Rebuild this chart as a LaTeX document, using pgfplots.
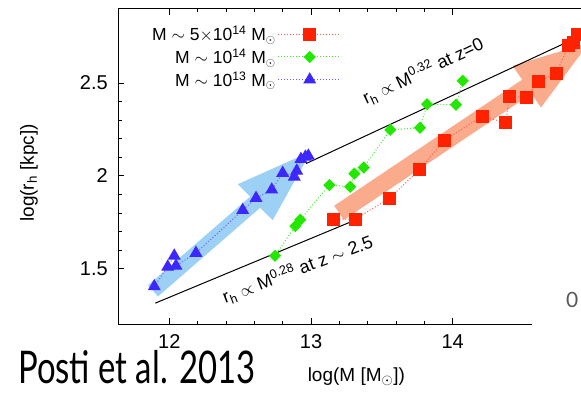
\documentclass[border=0pt]{standalone}
\usepackage{pgfplots}
\pgfplotsset{compat=1.18}
\usepackage{fontspec}
\setmainfont{Liberation Sans}
\newfontfamily\slidefont{Lato}

\definecolor{sqred}{HTML}{FF2200}
\definecolor{lnred}{HTML}{FF5A4A}
\definecolor{dmgreen}{HTML}{22E800}
\definecolor{lngreen}{HTML}{44EE33}
\definecolor{trblue}{HTML}{3C28FF}
\definecolor{lnblue}{HTML}{6A60FF}
\definecolor{arrblue}{HTML}{9DD0F5}
\definecolor{arrsalmon}{HTML}{F9AB8C}

\begin{document}
\begin{tikzpicture}
\useasboundingbox (0bp,0bp) rectangle (581bp,393bp);
\clip (0bp,0bp) rectangle (581bp,393bp);
\begin{axis}[
  at={(118.3bp,68.7bp)}, anchor=south west,
  scale only axis, width=476.1bp, height=315.5bp,
  xmin=11.64, xmax=15.0, ymin=1.2, ymax=2.9,
  xtick={12,13,14}, ytick={1.5,2,2.5},
  minor x tick num=4, minor y tick num=4,
  tick align=inside,
  major tick length=6bp, minor tick length=3.5bp,
  axis line style={line width=1bp},
  every tick/.style={black, line width=0.8bp},
  /pgf/number format/assume math mode=true,
  ticklabel style={font=\fontsize{20bp}{20bp}\selectfont},
  xticklabel style={yshift=-7bp},
  yticklabel style={xshift=-7bp},
  xlabel={log(M [M\(_\odot\)])},
  ylabel={log(r\textsubscript{h} [kpc])},
  label style={font=\fontsize{19bp}{19bp}\selectfont},
  xlabel style={at={(axis description cs:0.5,0)}, anchor=center, yshift=-52bp},
  ylabel style={at={(axis description cs:-0.1876,0.48)}, anchor=center},
  legend style={at={(0.476,0.958)}, anchor=north east, draw=none, fill=none,
    font=\fontsize{17.5bp}{17.5bp}\selectfont, row sep=2.5bp},
  legend cell align=right, legend plot pos=right,
  legend image code/.code={\draw[mark repeat=2,mark phase=2,#1]
    plot coordinates {(0bp,0bp) (31.5bp,0bp) (63bp,0bp)};},
]
% growth arrows drawn underneath everything else
\fill[arrblue] (11.920,1.350) -- (12.641,1.828) -- (12.730,1.761) -- (13.000,2.131)
  -- (12.483,1.955) -- (12.571,1.888) -- (11.850,1.411) -- cycle;
\fill[arrsalmon] (13.231,1.762) -- (14.557,2.442) -- (14.623,2.368) -- (14.962,2.717)
  -- (14.423,2.593) -- (14.490,2.518) -- (13.164,1.839) -- cycle;

% size-mass relations at z=0 and z~2.5
\addplot[black, line width=1bp, forget plot] coordinates {(12.965,2.066) (14.95,2.771)};
\addplot[black, line width=1bp, forget plot] coordinates {(11.901,1.314) (13.300,1.758)};

\addplot[color=lnred, line width=1bp, dash pattern=on 1bp off 2bp,
  mark=square*, mark size=6bp, mark options={solid, fill=sqred, draw=sqred}]
  coordinates {
  (13.157,1.767) (13.313,1.767) (13.555,1.880) (13.769,2.036) (13.941,2.192)
  (14.207,2.320) (14.374,2.287) (14.399,2.428) (14.519,2.422) (14.604,2.506)
  (14.729,2.551) (14.816,2.700) (14.853,2.717) (14.882,2.763)};
\addlegendentry{M \(\sim\) 5\(\times\)10\textsuperscript{14} M\(_\odot\)}

\addplot[color=lngreen, line width=1bp, dash pattern=on 1bp off 2bp,
  mark=square*, mark size=3.8bp, mark options={solid, rotate=45, fill=dmgreen, draw=dmgreen}]
  coordinates {
  (12.746,1.569) (12.889,1.729) (12.924,1.763) (13.129,1.950) (13.277,1.941)
  (13.306,2.012) (13.372,2.045) (13.560,2.248) (13.769,2.259) (13.819,2.386)
  (14.023,2.383) (14.071,2.512)};
\addlegendentry{M \(\sim\) 10\textsuperscript{14} M\(_\odot\)}

\addplot[color=lnblue, line width=1bp, dash pattern=on 1bp off 2bp,
  mark=triangle*, mark size=6.5bp, mark options={solid, fill=trblue, draw=trblue}]
  coordinates {
  (11.894,1.404) (11.989,1.510) (12.035,1.569) (12.047,1.515) (12.188,1.584)
  (12.518,1.815) (12.612,1.880) (12.723,1.925) (12.800,2.015) (12.882,1.995)
  (12.899,2.027) (12.929,2.090) (12.960,2.102) (12.981,2.108)};
\addlegendentry{M \(\sim\) 10\textsuperscript{13} M\(_\odot\)}

\node[anchor=base west, rotate=25.4, inner sep=0pt, font=\fontsize{18bp}{18bp}\selectfont]
  at (axis cs:13.389,2.382) {r\textsubscript{h} \(\propto\) M\textsuperscript{0.32} at z=0};
\node[anchor=base west, rotate=21, inner sep=0pt, font=\fontsize{18bp}{18bp}\selectfont]
  at (axis cs:12.395,1.310) {r\textsubscript{h} \(\propto\) M\textsuperscript{0.28} at z \(\sim\) 2.5};
\end{axis}
% the lower frame stops short of the right edge
\fill[white] (532bp,62bp) rectangle (600bp,76.5bp);
\node[anchor=west, text=black!65, inner sep=0pt, font=\slidefont\fontsize{21bp}{21bp}\selectfont]
  at (566bp,93bp) {0};
\node[anchor=base west, inner sep=0pt, font=\slidefont\fontsize{45bp}{45bp}\selectfont]
  at (18bp,10bp) {\scalebox{0.73}[1]{Posti et al. 2013}};
\end{tikzpicture}
\end{document}
